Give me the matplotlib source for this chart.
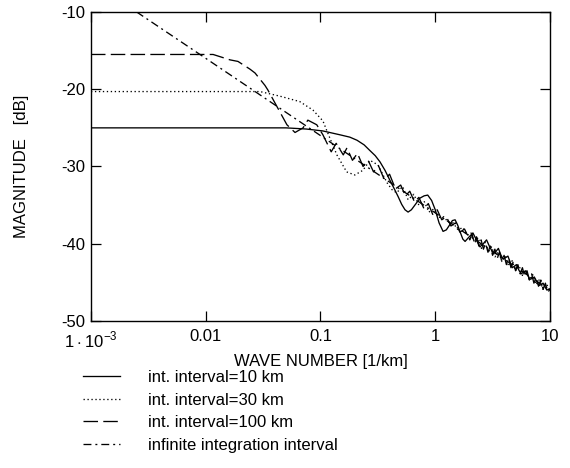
import matplotlib
matplotlib.use("Agg")
import matplotlib.pyplot as plt

plt.rcParams['font.family'] = ['Liberation Sans', 'DejaVu Sans']
plt.rcParams['mathtext.fontset'] = 'custom'
plt.rcParams['mathtext.rm'] = 'Liberation Sans'
plt.rcParams['axes.unicode_minus'] = False

# values (wave number [1/km], magnitude [dB])
k10 = [0.001, 0.05, 0.075, 0.105, 0.148, 0.18, 0.208, 0.24, 0.268, 0.30, 0.33, 0.365, 0.40,
       0.44, 0.475, 0.51, 0.545, 0.58, 0.62, 0.68, 0.735, 0.80, 0.86, 0.93, 1.0, 1.08, 1.17,
       1.25, 1.33, 1.41, 1.49, 1.57, 1.65, 1.74, 1.82, 1.95, 2.13, 2.3, 2.45, 2.62, 2.8, 3.0,
       3.2, 3.38, 3.55, 3.72, 3.9, 4.1, 4.3, 4.5, 4.7, 4.9, 5.1, 5.35, 5.6, 5.85, 6.1, 6.4,
       6.7, 7.0, 7.3, 7.65, 8.0, 8.35, 8.7, 9.05, 9.4, 9.7, 10.0]
db10 = [-25.0, -25.0, -25.15, -25.4, -25.9, -26.2, -26.6, -27.2, -27.9, -28.6, -29.4, -30.5, -31.7,
        -32.9, -33.9, -34.9, -35.6, -35.9, -35.6, -34.8, -34.1, -33.8, -33.7, -34.4, -35.6, -37.3, -38.4,
        -38.2, -37.6, -37.0, -36.9, -37.6, -38.5, -39.4, -39.7, -39.2, -38.6, -39.6, -40.4, -40.0, -39.5, -40.5,
        -41.2, -41.0, -40.6, -41.4, -42.0, -41.8, -41.6, -42.4, -43.1, -42.9, -42.7, -43.4, -43.9, -43.7, -43.5, -44.1,
        -44.6, -44.5, -44.3, -44.9, -45.4, -45.3, -45.1, -45.6, -46.0, -45.9, -45.9]

k30 = [0.001, 0.0297, 0.0444, 0.066, 0.086, 0.105, 0.116, 0.139, 0.169, 0.199, 0.234, 0.27,
       0.317, 0.38, 0.42, 0.46, 0.52, 0.58, 0.65, 0.72, 0.8, 0.88, 0.97, 1.07, 1.18, 1.3,
       1.43, 1.58, 1.74, 1.9, 2.05, 2.2, 2.36, 2.53, 2.71, 2.9, 3.1, 3.32, 3.56, 3.81, 4.08,
       4.37, 4.68, 5.01, 5.37, 5.75, 6.16, 6.6, 7.07, 7.57, 8.11, 8.69, 9.3, 10.0]
db30 = [-20.3, -20.3, -20.9, -21.6, -22.7, -24.1, -25.7, -28.5, -30.7, -31.1, -30.5, -29.2,
        -29.8, -32.1, -33.0, -33.4, -32.6, -34.3, -33.6, -35.0, -34.5, -35.9, -35.5, -36.6, -36.5, -37.2,
        -37.3, -38.2, -37.9, -38.9, -38.6, -39.9, -39.2, -40.6, -39.8, -41.1, -40.4, -41.7, -41.0, -42.3, -41.6,
        -42.9, -42.2, -43.5, -42.8, -44.1, -43.4, -44.7, -44.0, -45.3, -44.6, -45.9, -45.2, -46.0]

k100 = [0.001, 0.0116, 0.0163, 0.0191, 0.0243, 0.0269, 0.0328, 0.0348, 0.051, 0.06, 0.0705,
        0.0776, 0.0928, 0.105, 0.124, 0.137, 0.158, 0.17, 0.19, 0.21, 0.235, 0.26, 0.29, 0.32,
        0.36, 0.40, 0.45, 0.5, 0.55, 0.6, 0.66, 0.72, 0.8, 0.87, 0.95, 1.04, 1.14, 1.25, 1.37,
        1.5, 1.64, 1.8, 2.0, 2.09, 2.19, 2.29, 2.40, 2.51, 2.63, 2.75, 2.88, 3.02, 3.16, 3.31,
        3.47, 3.63, 3.80, 3.98, 4.17, 4.37, 4.57, 4.79, 5.01, 5.25, 5.50, 5.75, 6.03, 6.31,
        6.61, 6.92, 7.24, 7.59, 7.94, 8.32, 8.71, 9.12, 9.55, 10.0]
db100 = [-15.5, -15.5, -16.2, -16.4, -17.4, -17.9, -19.5, -20.1, -24.6, -25.6, -25.0,
         -24.0, -24.6, -25.9, -28.1, -27.0, -28.5, -27.6, -29.2, -28.3, -30.0, -29.2, -30.7, -29.9,
         -31.7, -31.0, -32.9, -32.4, -33.8, -33.2, -34.6, -34.0, -35.5, -34.8, -36.2, -35.6, -36.9, -36.5, -37.7,
         -37.3, -38.5, -38.1, -39.5, -38.7, -39.9, -39.1, -40.3, -39.5, -40.7, -39.9, -41.1, -40.3, -41.5, -40.7,
         -41.9, -41.1, -42.3, -41.5, -42.7, -41.9, -43.1, -42.3, -43.5, -42.7, -43.9, -43.1, -44.3, -43.5,
         -44.7, -43.9, -45.1, -44.3, -45.5, -44.7, -45.9, -45.1, -46.3, -45.9]

kinf = [0.0025, 0.01, 0.1, 1.0, 10.0]
dbinf = [-10.0, -16.0, -26.0, -36.0, -46.0]

fig = plt.figure(figsize=(5.7, 4.68), dpi=100)
ax = fig.add_axes([0.1596, 0.3141, 0.8053, 0.6603])

lw = 0.95
ax.plot(k10, db10, color='black', lw=lw, label='int. interval=10 km')
ax.plot(k30, db30, color='black', lw=lw, linestyle=(0, (1, 2)), label='int. interval=30 km')
ax.plot(k100, db100, color='black', lw=lw, linestyle=(0, (11, 4)), label='int. interval=100 km')
ax.plot(kinf, dbinf, color='black', lw=lw, linestyle=(0, (6, 3, 1.5, 3)),
        label='infinite integration interval')

ax.set_xscale('log')
ax.set_xlim(0.001, 10)
ax.set_ylim(-50, -10)
ax.set_xticks([0.001, 0.01, 0.1, 1, 10])
ax.set_xticklabels([r'$1\cdot10^{-3}$', '0.01', '0.1', '1', '10'])
ax.xaxis.set_minor_locator(matplotlib.ticker.NullLocator())
ax.set_yticks([-50, -40, -30, -20, -10])
ax.tick_params(axis='both', which='major', direction='in', length=7, width=0.9,
               top=True, right=True, labelsize=12, pad=4)
ax.tick_params(axis='x', pad=6)
for s in ax.spines.values():
    s.set_linewidth(1.0)

ax.set_xlabel('WAVE NUMBER [1/km]', fontsize=12, labelpad=3)
ax.set_ylabel('MAGNITUDE   [dB]', fontsize=12, labelpad=23)

fig.legend(loc='upper left', bbox_to_anchor=(0.146, 0.209), frameon=False, fontsize=12,
           handlelength=2.2, handletextpad=1.7, labelspacing=0.45, borderpad=0, borderaxespad=0)

fig.savefig('out.png', dpi=100)
